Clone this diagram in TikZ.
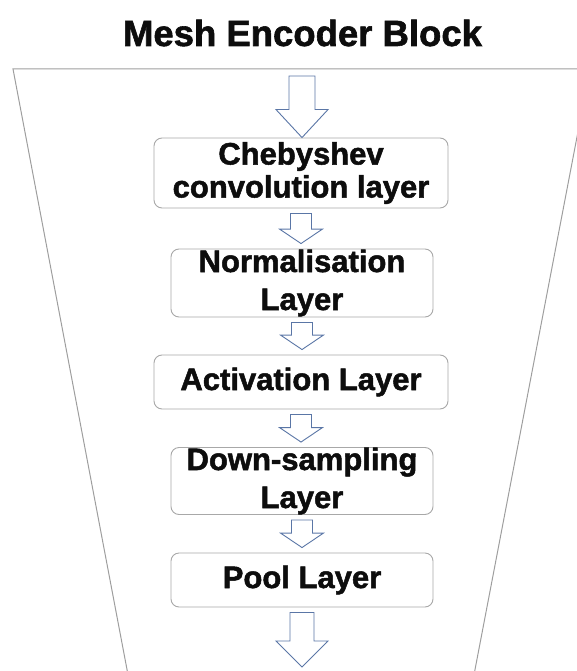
\documentclass[tikz,border=0pt]{standalone}
\usepackage{fontspec}
\setmainfont{Liberation Sans}[BoldFeatures={FakeBold=1.6}]
\usetikzlibrary{calc, positioning}

\definecolor{boxgray}{RGB}{168,168,168}
\definecolor{arrowblue}{RGB}{90,118,166}
\definecolor{funnelgray}{RGB}{158,158,158}

\tikzset{
  layerbox/.style={draw=boxgray, line width=0.9pt, rounded corners=8pt, fill=white,
    align=center, inner sep=0pt, text=black!95,
    font=\bfseries\fontsize{31}{38}\selectfont},
  blockarrow/.style={draw=arrowblue, line width=0.9pt, fill=white, line join=miter},
}

% hollow block arrow: from, to, half shaft, half head, head length
\newcommand{\blkarrow}[5]{%
  \draw[blockarrow] let \p1=(#1), \p2=(#2) in
    (\x1-#3,\y1) -- (\x1+#3,\y1) -- (\x1+#3,\y2+#5) -- (\x1+#4,\y2+#5)
    -- (\x1,\y2) -- (\x1-#4,\y2+#5) -- (\x1-#3,\y2+#5) -- cycle;
}

\begin{document}
\begin{tikzpicture}[x=1pt, y=-1pt]
\def\mx{302}

\useasboundingbox (0,0) rectangle (577,671);
\clip (0,0) rectangle (577,671);

% funnel outline
\draw[funnelgray, line width=1pt] (129,680) -- (13,69) -- (590,69) -- (473,680);

\node[anchor=base, font=\bfseries\fontsize{36.5}{40}\selectfont, text=black!95] (title) at (302.5,46) {Mesh Encoder Block};

% layers
\node[layerbox, minimum width=294pt, minimum height=70pt, font=\bfseries\fontsize{31}{33}\selectfont] (cheb) at (301,173) {Chebyshev\\convolution layer};
\node[layerbox, minimum width=262pt, minimum height=68pt] (norm) at (\mx,283) {Normalisation\\Layer};
\node[layerbox, minimum width=294pt, minimum height=54pt] (act) at (301,382) {Activation Layer};
\node[layerbox, minimum width=262pt, minimum height=67pt] (down) at (\mx,481) {Down-sampling\\Layer};
\node[layerbox, minimum width=262pt, minimum height=54pt] (pool) at (\mx,580) {Pool Layer};

\coordinate (in) at (\mx,76);
\coordinate (out) at (\mx,667);

% arrows
\blkarrow{in}{cheb.north}{13pt}{26pt}{28pt}
\foreach \a/\b in {cheb/norm, norm/act, act/down, down/pool} {
  \blkarrow{$(\a.south)+(0,5)$}{$(\b.north)+(0,-5)$}{10.5pt}{21.5pt}{14.5pt}
}
\blkarrow{$(pool.south)+(0,5)$}{out}{12pt}{26pt}{26pt}

\end{tikzpicture}
\end{document}
